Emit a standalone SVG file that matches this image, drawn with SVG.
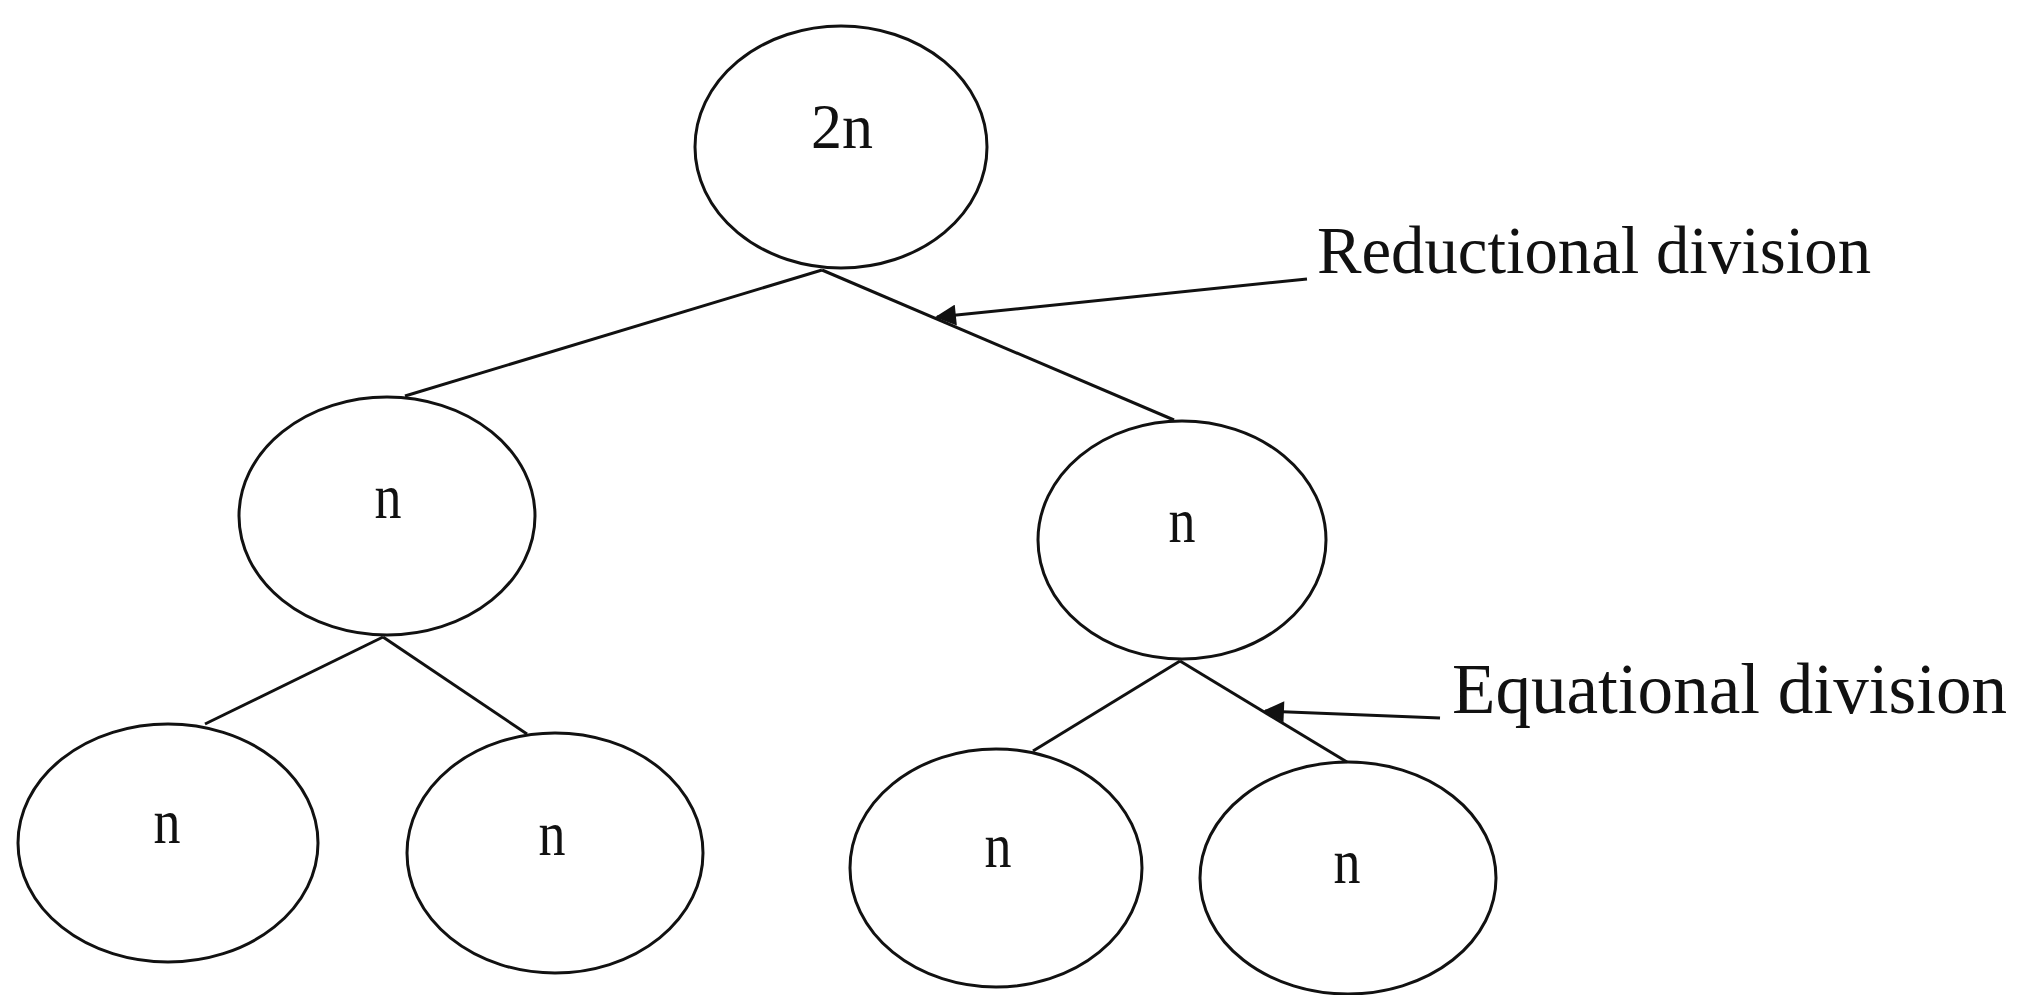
<svg xmlns="http://www.w3.org/2000/svg" width="2017" height="995" viewBox="0 0 2017 995">
<style>
.node{fill:none;stroke:#111;stroke-width:3}
.lbl{font-family:"Liberation Serif","Times New Roman",serif;font-size:64px;fill:#111;text-anchor:middle}
.ann{font-family:"Liberation Serif","Times New Roman",serif;fill:#111}
.edge{stroke:#111;stroke-width:3;fill:none}
</style>
<defs>
<marker id="ah" viewBox="0 0 10 10" refX="9" refY="5" markerWidth="8" markerHeight="7" markerUnits="strokeWidth" orient="auto">
<path d="M0,0 L10,5 L0,10 Z" fill="#111"/>
</marker>
</defs>
<rect width="2017" height="995" fill="#fff"/>
<g id="connectors">
<line class="edge" x1="822" y1="270" x2="405" y2="396"/>
<line class="edge" x1="822" y1="270" x2="1174" y2="420"/>
<line class="edge" x1="383" y1="637" x2="205" y2="724"/>
<line class="edge" x1="383" y1="637" x2="527" y2="734"/>
<line class="edge" x1="1180" y1="661" x2="1033" y2="751"/>
<line class="edge" x1="1180" y1="661" x2="1347" y2="762"/>
<line class="edge" x1="1307" y1="279" x2="937" y2="317" marker-end="url(#ah)"/>
<line class="edge" x1="1440" y1="718" x2="1265" y2="711" marker-end="url(#ah)"/>
</g>
<g id="n-root">
<ellipse class="node" cx="841" cy="147" rx="146" ry="121"/>
<text class="lbl" x="842" y="148" textLength="62" lengthAdjust="spacingAndGlyphs">2n</text>
</g>
<g id="n-left">
<ellipse class="node" cx="387" cy="516" rx="148" ry="119"/>
<text class="lbl" x="388" y="518" textLength="27" lengthAdjust="spacingAndGlyphs">n</text>
</g>
<g id="n-right">
<ellipse class="node" cx="1182" cy="540" rx="144" ry="119"/>
<text class="lbl" x="1182" y="542" textLength="27" lengthAdjust="spacingAndGlyphs">n</text>
</g>
<g id="n-ll">
<ellipse class="node" cx="168" cy="843" rx="150" ry="119"/>
<text class="lbl" x="167" y="843" textLength="27" lengthAdjust="spacingAndGlyphs">n</text>
</g>
<g id="n-lr">
<ellipse class="node" cx="555" cy="853" rx="148" ry="120"/>
<text class="lbl" x="552" y="855" textLength="27" lengthAdjust="spacingAndGlyphs">n</text>
</g>
<g id="n-rl">
<ellipse class="node" cx="996" cy="868" rx="146" ry="119"/>
<text class="lbl" x="998" y="867" textLength="27" lengthAdjust="spacingAndGlyphs">n</text>
</g>
<g id="n-rr">
<ellipse class="node" cx="1348" cy="878" rx="148" ry="116"/>
<text class="lbl" x="1347" y="883" textLength="27" lengthAdjust="spacingAndGlyphs">n</text>
</g>
<g id="label-reductional">
<text class="ann" x="1317" y="273" font-size="68" textLength="554" lengthAdjust="spacingAndGlyphs">Reductional division</text>
</g>
<g id="label-equational">
<text class="ann" x="1452" y="713" font-size="71" textLength="555" lengthAdjust="spacingAndGlyphs">Equational division</text>
</g>
</svg>
